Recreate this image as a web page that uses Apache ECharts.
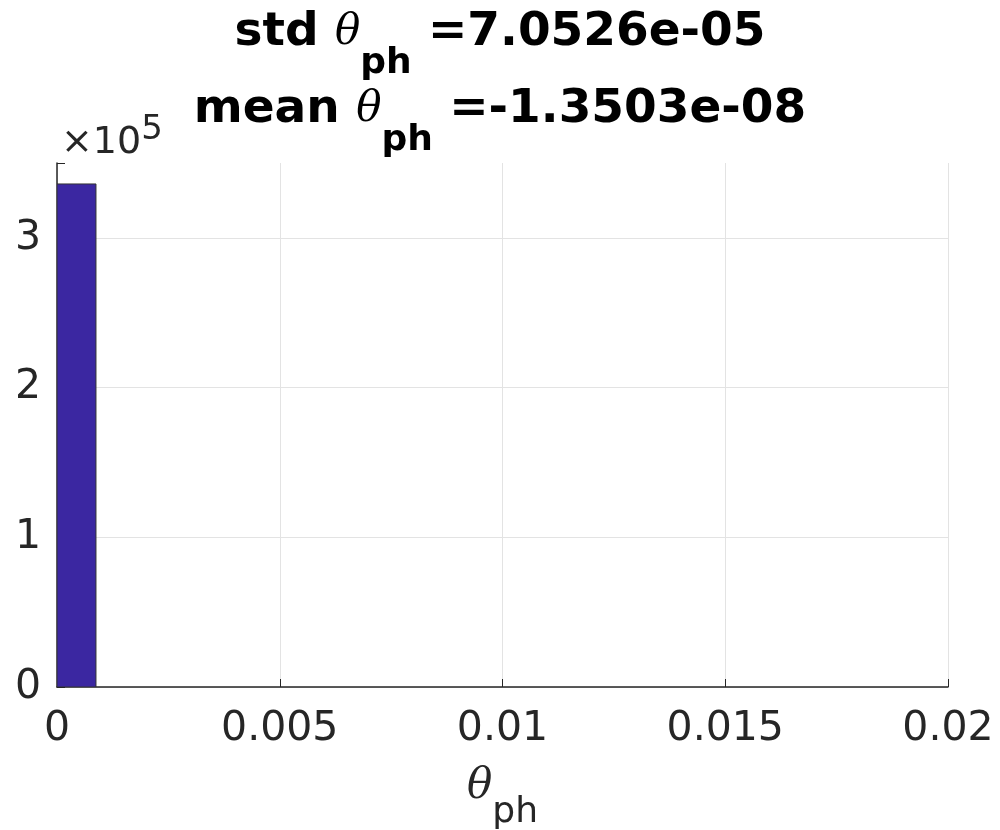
<!DOCTYPE html>
<html lang="en">
<head>
	<meta charset="UTF-8">
	<title>theta_ph histogram</title>
	<style>
		html, body { margin: 0; padding: 0; background: #fff; }
	</style>
</head>
<body>
<div id="chart" style="width:1000px;height:830px;"></div>
<script src="https://cdn.jsdelivr.net/npm/echarts@6/dist/echarts.min.js"></script>
<script>
	// histogram bins (left edge, right edge) and counts
	var binLeft = [0];
	var binRight = [0.000875];
	var counts = [336000];

	var xTicks = [0, 0.005, 0.01, 0.015, 0.02];
	var yScale = 100000; // x10^5

	var ink = '#262626';
	var font = 'DejaVu Sans';

	var bins = [];
	for (var i = 0; i < counts.length; i++) {
		bins.push([binLeft[i], binRight[i], counts[i]]);
	}

	// subscript is pushed down with top padding (shift = padding / 2)
	function titleRich(subPad) {
		return {
			b: { fontFamily: font, fontWeight: 'bold', fontSize: 47, color: '#000', lineHeight: 56 },
			th: { fontFamily: 'DejaVu Serif', fontStyle: 'italic', fontWeight: 'normal', fontSize: 42, color: '#000', lineHeight: 56 },
			sub: { fontFamily: font, fontWeight: 'bold', fontSize: 36, color: '#000', lineHeight: 1, padding: [subPad, 0, 0, 0] }
		};
	}

	var myChart = echarts.init(document.getElementById('chart'));

	var option = {
		backgroundColor: '#fff',
		animation: false,
		title: [
			{
				text: '{b|std }{th|θ}{sub|ph}{b| =7.0526e-05}',
				left: 'center',
				top: 5,
				padding: 0,
				textStyle: { rich: titleRich(62) }
			},
			{
				text: '{b|mean }{th|θ}{sub|ph}{b| =-1.3503e-08}',
				left: 'center',
				top: 82,
				padding: 0,
				textStyle: { rich: titleRich(62) }
			}
		],
		grid: {
			left: 57,
			right: 52,
			top: 163,
			bottom: 143,
			containLabel: false,
			outerBoundsMode: 'none'
		},
		xAxis: {
			type: 'value',
			min: xTicks[0],
			max: xTicks[xTicks.length - 1],
			interval: 0.005,
			name: '{th|θ}{sub|ph}',
			nameLocation: 'middle',
			nameGap: 78,
			nameMoveOverlap: false,
			nameTextStyle: {
				rich: {
					th: { fontFamily: 'DejaVu Serif', fontStyle: 'italic', fontSize: 42, color: ink, lineHeight: 44 },
					sub: { fontFamily: font, fontSize: 36, color: ink, lineHeight: 1, padding: [52, 0, 0, 0] }
				}
			},
			axisLine: { show: true, onZero: false, lineStyle: { color: ink, width: 1.5 } },
			axisTick: { show: true, inside: true, length: 8, lineStyle: { color: ink } },
			axisLabel: {
				color: ink,
				fontFamily: font,
				fontSize: 41,
				margin: 22,
				formatter: function (v) { return String(+v.toFixed(4)); }
			},
			splitLine: { show: true, showMaxLine: true, lineStyle: { color: '#e3e3e3', width: 1 } }
		},
		yAxis: {
			type: 'value',
			min: 0,
			max: 350000,
			interval: yScale,
			name: '×10{sup|5}',
			nameLocation: 'end',
			nameGap: 0,
			nameMoveOverlap: false,
			nameTextStyle: {
				align: 'left',
				fontFamily: font,
				fontSize: 38,
				lineHeight: 40,
				color: ink,
				padding: [0, 0, 0, 4],
				rich: {
					sup: { fontFamily: font, fontSize: 34, color: ink, lineHeight: 1, padding: [0, 0, 26, 0] }
				}
			},
			axisLine: { show: true, lineStyle: { color: ink, width: 1.5 } },
			axisTick: { show: true, inside: true, length: 8, lineStyle: { color: ink } },
			axisLabel: {
				color: ink,
				fontFamily: font,
				fontSize: 41,
				margin: 16,
				formatter: function (v) {
					return v % yScale === 0 ? String(v / yScale) : '';
				}
			},
			splitLine: { show: true, showMaxLine: false, lineStyle: { color: '#e3e3e3', width: 1 } }
		},
		series: [
			{
				type: 'custom',
				clip: true,
				z: 5,
				data: bins,
				encode: { x: [0, 1], y: 2 },
				renderItem: function (params, api) {
					var p0 = api.coord([api.value(0), api.value(2)]);
					var p1 = api.coord([api.value(1), 0]);
					return {
						type: 'rect',
						shape: { x: p0[0], y: p0[1], width: p1[0] - p0[0], height: p1[1] - p0[1] },
						style: { fill: '#3b27a1', stroke: '#333333', lineWidth: 1 }
					};
				}
			}
		]
	};

	myChart.setOption(option);
</script>
</body>
</html>
